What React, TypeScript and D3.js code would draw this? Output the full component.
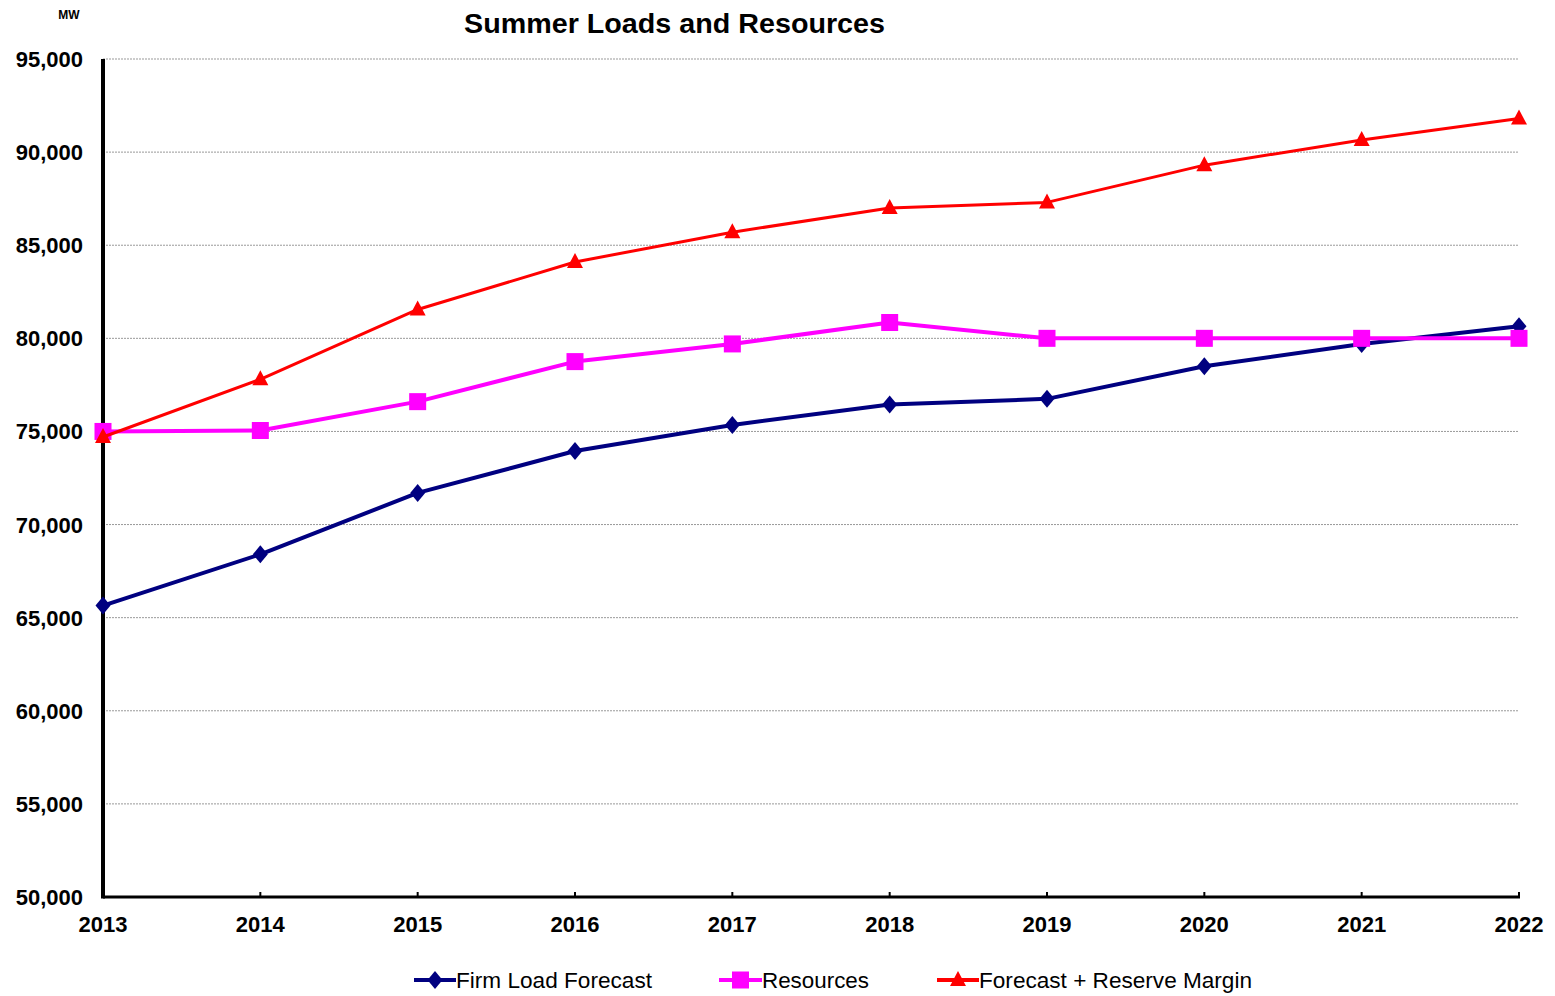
import React from 'react';
import * as d3 from 'd3';

// Summer loads vs. resources, MW by year
const years = ['2013', '2014', '2015', '2016', '2017', '2018', '2019', '2020', '2021', '2022'];
const firmLoad = [65650, 68400, 71700, 73950, 75350, 76450, 76750, 78500, 79700, 80650];
const resources = [75000, 75050, 76600, 78750, 79700, 80850, 80000, 80000, 80000, 80000];
const reserveMargin = [74700, 77800, 81550, 84100, 85700, 87000, 87300, 89300, 90650, 91800];
const yTicks = [50000, 55000, 60000, 65000, 70000, 75000, 80000, 85000, 90000, 95000];

const series = [
  { name: 'Firm Load Forecast', values: firmLoad, color: '#000080', width: 4, marker: 'diamond' },
  { name: 'Resources', values: resources, color: '#FF00FF', width: 4, marker: 'square' },
  { name: 'Forecast + Reserve Margin', values: reserveMargin, color: '#FF0000', width: 3, marker: 'triangle' },
];

const W = 1555, H = 996;
const left = 103, right = 1519, top = 59, bottom = 897;
const font = '"Liberation Sans", Arial, sans-serif';

function Marker({ kind, x, y, color }: { kind: string; x: number; y: number; color: string }) {
  if (kind === 'square') return <rect x={x - 8.5} y={y - 8.5} width={17} height={17} fill={color} />;
  if (kind === 'diamond') return <path d={`M${x},${y - 9}L${x + 7.5},${y}L${x},${y + 9}L${x - 7.5},${y}Z`} fill={color} />;
  return <path d={`M${x},${y - 9}L${x + 8},${y + 6}L${x - 8},${y + 6}Z`} fill={color} />;
}

export default function App() {
  const x = d3.scalePoint<string>().domain(years).range([left, right]);
  const y = d3.scaleLinear().domain([50000, 95000]).range([bottom, top]);
  const fmt = d3.format(',');
  const line = d3.line<number>().x((_, i) => x(years[i]) as number).y((d) => y(d));

  const legend = [
    { lx: 414, tx: 456, w: 196 },
    { lx: 719, tx: 762, w: 107 },
    { lx: 937, tx: 979, w: 273 },
  ];

  return (
    <svg width={W} height={H} style={{ position: 'absolute', left: 0, top: 0, background: '#fff' }} fontFamily={font}>
      <text x={464} y={33} fontSize={27} fontWeight="bold" textLength={421} lengthAdjust="spacingAndGlyphs">Summer Loads and Resources</text>
      <text x={69} y={19} textAnchor="middle" fontSize={12} fontWeight="bold">MW</text>

      {yTicks.filter((t) => t > 50000).map((t) => (
        <line key={t} x1={left} x2={right} y1={y(t)} y2={y(t)} stroke="#999" strokeWidth={1} strokeDasharray="2,1" />
      ))}
      {yTicks.map((t) => (
        <text key={t} x={83} y={y(t) + 8} textAnchor="end" fontSize={22} fontWeight="bold">{fmt(t)}</text>
      ))}
      {years.map((yr) => (
        <g key={yr}>
          <line x1={x(yr)} x2={x(yr)} y1={bottom} y2={bottom - 5} stroke="#000" strokeWidth={2} />
          <text x={x(yr)} y={932} textAnchor="middle" fontSize={22} fontWeight="bold">{yr}</text>
        </g>
      ))}
      <line x1={left} x2={left} y1={top} y2={bottom + 1.5} stroke="#000" strokeWidth={4} />
      <line x1={left} x2={right + 1} y1={bottom} y2={bottom} stroke="#000" strokeWidth={3} />

      {series.map((s) => (
        <g key={s.name}>
          <path d={line(s.values) ?? ''} fill="none" stroke={s.color} strokeWidth={s.width} strokeLinejoin="round" />
          {s.values.map((v, i) => (
            <Marker key={i} kind={s.marker} x={x(years[i]) as number} y={y(v)} color={s.color} />
          ))}
        </g>
      ))}

      {series.map((s, i) => (
        <g key={s.name}>
          <line x1={legend[i].lx} x2={legend[i].tx} y1={980} y2={980} stroke={s.color} strokeWidth={4} />
          <Marker kind={s.marker} x={(legend[i].lx + legend[i].tx) / 2} y={980} color={s.color} />
          <text x={legend[i].tx} y={988} fontSize={22} textLength={legend[i].w} lengthAdjust="spacingAndGlyphs">{s.name}</text>
        </g>
      ))}
    </svg>
  );
}
